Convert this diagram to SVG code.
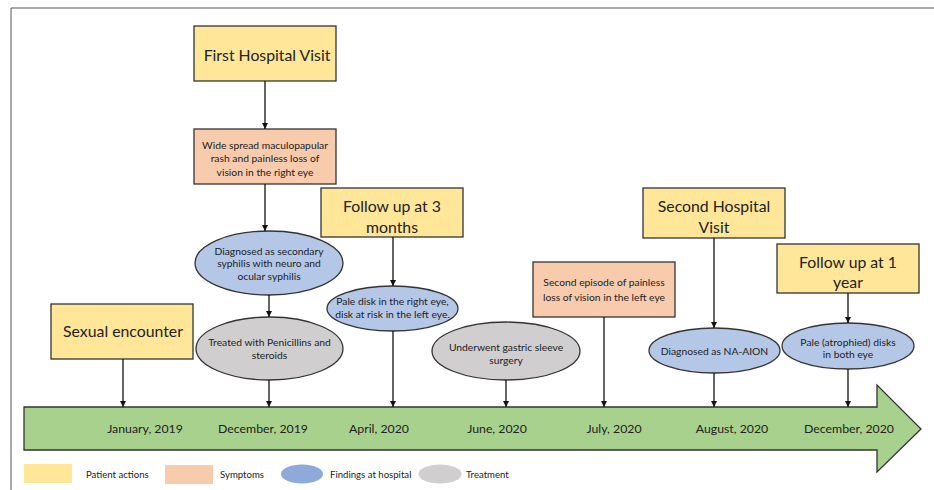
<svg xmlns="http://www.w3.org/2000/svg" width="934" height="490" viewBox="0 0 934 490">
<style>
text{font-family:Lato,"Liberation Sans",sans-serif;fill:#222;text-anchor:middle;dominant-baseline:central}
.big{font-size:15.8px}
.sm{font-size:10.3px}
.dt{font-size:12.3px}
.lg{font-size:9.6px;text-anchor:start}
.pa{fill:#ffe699;stroke:#333;stroke-width:1.3}
.sy{fill:#f8cbad;stroke:#333;stroke-width:1.3}
.fh{fill:#b4c7e7;stroke:#333;stroke-width:1.3}
.tr{fill:#d0cece;stroke:#333;stroke-width:1.3}
.c{stroke:#111;stroke-width:1.3;fill:none;marker-end:url(#ah)}
</style>
<defs>
<marker id="ah" viewBox="0 0 10 10" refX="10" refY="5" markerWidth="6" markerHeight="6" markerUnits="userSpaceOnUse" orient="auto"><path d="M0,0 L10,5 L0,10 z" fill="#111"/></marker>
</defs>
<rect width="934" height="490" fill="#fff"/>
<path d="M11,490 V8 H934" fill="none" stroke="#555" stroke-width="1"/>

<g id="timeline">
<path d="M24,407 H877 V385 L921,429 L877,472 V450 H24 Z" fill="#a9d18e" stroke="#333" stroke-width="1.3"/>
<text class="dt" x="145" y="428">January, 2019</text>
<text class="dt" x="263" y="428">December, 2019</text>
<text class="dt" x="379" y="428">April, 2020</text>
<text class="dt" x="497" y="428">June, 2020</text>
<text class="dt" x="614" y="428">July, 2020</text>
<text class="dt" x="732" y="428">August, 2020</text>
<text class="dt" x="849" y="428">December, 2020</text>
</g>

<g id="first-visit"><rect class="pa" x="194" y="26" width="142" height="55"/><text class="big" x="267" y="54">First Hospital Visit</text></g>
<g id="rash"><rect class="sy" x="194" y="129" width="142" height="55"/>
<text class="sm" x="265" y="145">Wide spread maculopapular</text><text class="sm" x="265" y="158">rash and painless loss of</text><text class="sm" x="265" y="172">vision in the right eye</text></g>
<g id="diagnosed"><ellipse class="fh" cx="269" cy="263" rx="74" ry="32"/>
<text class="sm" x="269" y="251">Diagnosed as secondary</text><text class="sm" x="269" y="263">syphilis with neuro and</text><text class="sm" x="269" y="276">ocular syphilis</text></g>
<g id="treated"><ellipse class="tr" cx="269.5" cy="348.5" rx="73.5" ry="31.5"/>
<text class="sm" x="269.5" y="342">Treated with Penicillins and</text><text class="sm" x="269.5" y="355">steroids</text></g>
<g id="sexual"><rect class="pa" x="51" y="304" width="142" height="55"/><text class="big" x="123" y="330">Sexual encounter</text></g>
<g id="followup-3"><rect class="pa" x="321" y="188" width="142" height="49"/>
<text class="big" x="392" y="205">Follow up at 3</text><text class="big" x="392" y="226">months</text></g>
<g id="pale-disk"><ellipse class="fh" cx="392.5" cy="308.5" rx="65.5" ry="22.5"/>
<text class="sm" x="392.5" y="301">Pale disk in the right eye,</text><text class="sm" x="392.5" y="314">disk at risk in the left eye.</text></g>
<g id="gastric"><ellipse class="tr" cx="506" cy="351" rx="74" ry="29"/>
<text class="sm" x="506" y="347">Underwent gastric sleeve</text><text class="sm" x="506" y="360">surgery</text></g>
<g id="second-episode"><rect class="sy" x="533" y="262" width="142" height="55"/>
<text class="sm" x="604" y="282">Second episode of painless</text><text class="sm" x="604" y="297">loss of vision in the left eye</text></g>
<g id="second-visit"><rect class="pa" x="643" y="188" width="142" height="50"/>
<text class="big" x="714" y="205">Second Hospital</text><text class="big" x="714" y="226">Visit</text></g>
<g id="na-aion"><ellipse class="fh" cx="714.5" cy="350.5" rx="65.5" ry="22.5"/>
<text class="sm" x="714.5" y="351">Diagnosed as NA-AION</text></g>
<g id="followup-1"><rect class="pa" x="777" y="244" width="142" height="49"/>
<text class="big" x="848" y="261">Follow up at 1</text><text class="big" x="848" y="281">year</text></g>
<g id="atrophied"><ellipse class="fh" cx="848" cy="346" rx="66" ry="23"/>
<text class="sm" x="848" y="342">Pale (atrophied) disks</text><text class="sm" x="848" y="354">in both eye</text></g>

<g id="connectors">
<path class="c" d="M265,81 V129"/>
<path class="c" d="M265,184 V231"/>
<path class="c" d="M269,295 V317"/>
<path class="c" d="M269,380 V407"/>
<path class="c" d="M123,359 V407"/>
<path class="c" d="M393,237 V286"/>
<path class="c" d="M393,331 V407"/>
<path class="c" d="M506,380 V407"/>
<path class="c" d="M604,317 V407"/>
<path class="c" d="M714,238 V328"/>
<path class="c" d="M714,373 V407"/>
<path class="c" d="M848,293 V323"/>
<path class="c" d="M848,369 V407"/>
</g>

<g id="legend">
<rect x="24" y="464" width="48" height="19" fill="#ffe699"/>
<text class="lg" x="86" y="474.5">Patient actions</text>
<rect x="165" y="465" width="48" height="19" fill="#f8cbad"/>
<text class="lg" x="220" y="474.5">Symptoms</text>
<ellipse cx="302" cy="474" rx="21" ry="9.5" fill="#8eaadb"/>
<text class="lg" x="330" y="474.5">Findings at hospital</text>
<ellipse cx="440" cy="474" rx="21.5" ry="9.5" fill="#d0cece"/>
<text class="lg" x="466" y="474.5">Treatment</text>
</g>
</svg>
